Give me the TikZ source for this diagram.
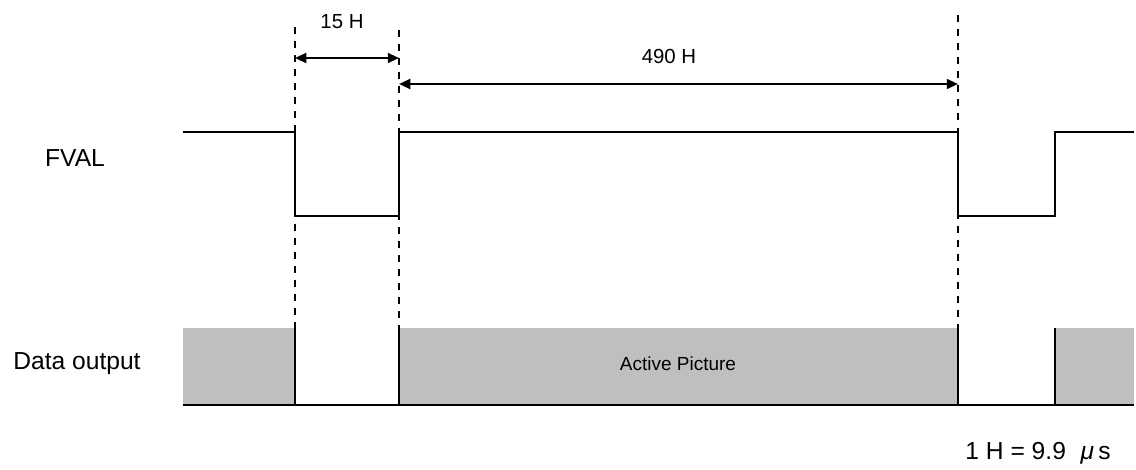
\documentclass[tikz,border=0pt]{standalone}
\usepackage{fontspec}
\setmainfont{Liberation Sans}
\usetikzlibrary{arrows.meta}
\tikzset{
  sig/.style={line width=1.4pt},
  guide/.style={line width=1.3pt,dash pattern=on 5pt off 5pt},
  dim/.style={line width=1.6pt,{Triangle[length=8pt,width=7pt]}-{Triangle[length=8pt,width=7pt]}},
  big/.style={font=\fontsize{17.5}{20}\selectfont},
  mid/.style={font=\fontsize{14.5}{17}\selectfont},
}
\begin{document}
\begin{tikzpicture}[x=0.025cm,y=-0.025cm]
\useasboundingbox (0,0) rectangle (1136,469);
% 基準線(破線)
\coordinate (a0) at (295,27);  \coordinate (a1) at (295,328);
\coordinate (b0) at (399,30);  \coordinate (b1) at (399,328);
\coordinate (c0) at (958,15);  \coordinate (c1) at (958,328);
\draw[guide] (a0) -- (a1);
\draw[guide] (b0) -- (b1);
\draw[guide] (c0) -- (c1);
% データ出力
\fill[black!25] (183,328) rectangle (295,405);
\fill[black!25] (399,328) rectangle (958,405);
\fill[black!25] (1055,328) rectangle (1134,405);
\draw[sig] (295,328) -- (295,405);
\draw[sig] (399,328) -- (399,405);
\draw[sig] (958,328) -- (958,405);
\draw[sig] (1055,328) -- (1055,405);
\draw[sig] (183,405) -- (1134,405);
% FVAL
\draw[sig] (183,132) -- (295,132) -- (295,216) -- (399,216) -- (399,132)
  -- (958,132) -- (958,216) -- (1055,216) -- (1055,132) -- (1134,132);
% 寸法
\coordinate (p1) at (295,58);  \coordinate (p2) at (399,58);
\coordinate (q1) at (399,84);  \coordinate (q2) at (958,84);
\draw[dim] (p1) -- (p2);
\draw[dim] (q1) -- (q2);
\node[mid] (t15) at (342,22) {15 H};
\node[mid] (t490) at (669,56) {490 H};
% ラベル
\node[big] (fval) at (75,158) {FVAL};
\node[big] (dout) at (77,364) {Data output};
\node[font=\fontsize{13.5}{16}\selectfont] (active) at (678,364) {Active Picture};
\node[big] (unit) at (1038,453) {1 H = 9.9\hspace{0.6em}{\itshape μ}\,s};
\end{tikzpicture}
\end{document}
